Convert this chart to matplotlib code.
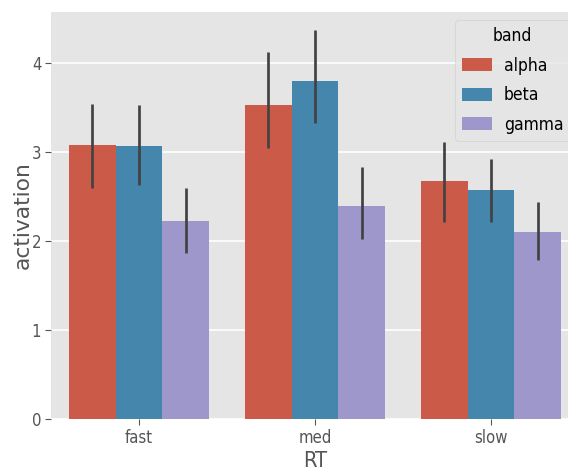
import colorsys
import numpy as np
import matplotlib
matplotlib.use("Agg")
import matplotlib.pyplot as plt
import matplotlib.colors as mcolors

categories = ["fast", "med", "slow"]
bands = ["alpha", "beta", "gamma"]
means = {
    "alpha": [3.075, 3.524, 2.67],
    "beta": [3.064, 3.79, 2.57],
    "gamma": [2.22, 2.39, 2.095],
}
ci_low = {
    "alpha": [2.59, 3.04, 2.21],
    "beta": [2.63, 3.32, 2.21],
    "gamma": [1.86, 2.02, 1.78],
}
ci_high = {
    "alpha": [3.535, 4.12, 3.11],
    "beta": [3.52, 4.37, 2.92],
    "gamma": [2.596, 2.83, 2.44],
}
base_colors = ["#E24A33", "#348ABD", "#988ED5"]

plt.style.use("ggplot")
plt.rcParams["font.family"] = ["DejaVu Sans"]
plt.rcParams["font.stretch"] = "condensed"


def desat(c, prop=0.75):
    r, g, b = mcolors.to_rgb(c)
    h, l, s = colorsys.rgb_to_hls(r, g, b)
    return colorsys.hls_to_rgb(h, l, s * prop)


fig = plt.figure(figsize=(5.68, 4.70), dpi=100)
ax = fig.add_axes([51 / 568, 51 / 470, 528 / 568, 407.3 / 470])
ax.set_facecolor("#E5E5E5")

n = len(bands)
width = 0.8 / n
x = np.arange(len(categories))
for i, band in enumerate(bands):
    pos = x + (i - (n - 1) / 2) * width
    ax.bar(pos, means[band], width=width, color=desat(base_colors[i]),
           label=band, zorder=2, linewidth=0)
    ax.vlines(pos, ci_low[band], ci_high[band], color="#424242",
              linewidth=1.95, zorder=3)

ax.set_xlim(-0.5, 2.5)
ax.set_ylim(0, 4.57)
ax.set_xticks(x)
ax.set_xticklabels(categories)
ax.set_yticks([0, 1, 2, 3, 4])
ax.xaxis.grid(False)
ax.yaxis.grid(True, color="white", linewidth=1.2)
ax.set_axisbelow(True)
for s in ax.spines.values():
    s.set_visible(False)
ax.tick_params(labelsize=12, colors="#555555", labelcolor="#555555",
               length=4, pad=3)
ax.set_xlabel("RT", fontsize=15.7, color="#555555", labelpad=3)
ax.set_ylabel("activation", fontsize=15.7, color="#555555",
              fontstretch="normal")
ax.yaxis.set_label_coords(-0.034, 0.5)
leg = ax.legend(title="band", loc="upper right", fontsize=12.5,
                title_fontsize=12.5, handlelength=1.7, handleheight=0.8,
                labelspacing=0.66, handletextpad=0.7)

fig.savefig("out.png", dpi=100)
